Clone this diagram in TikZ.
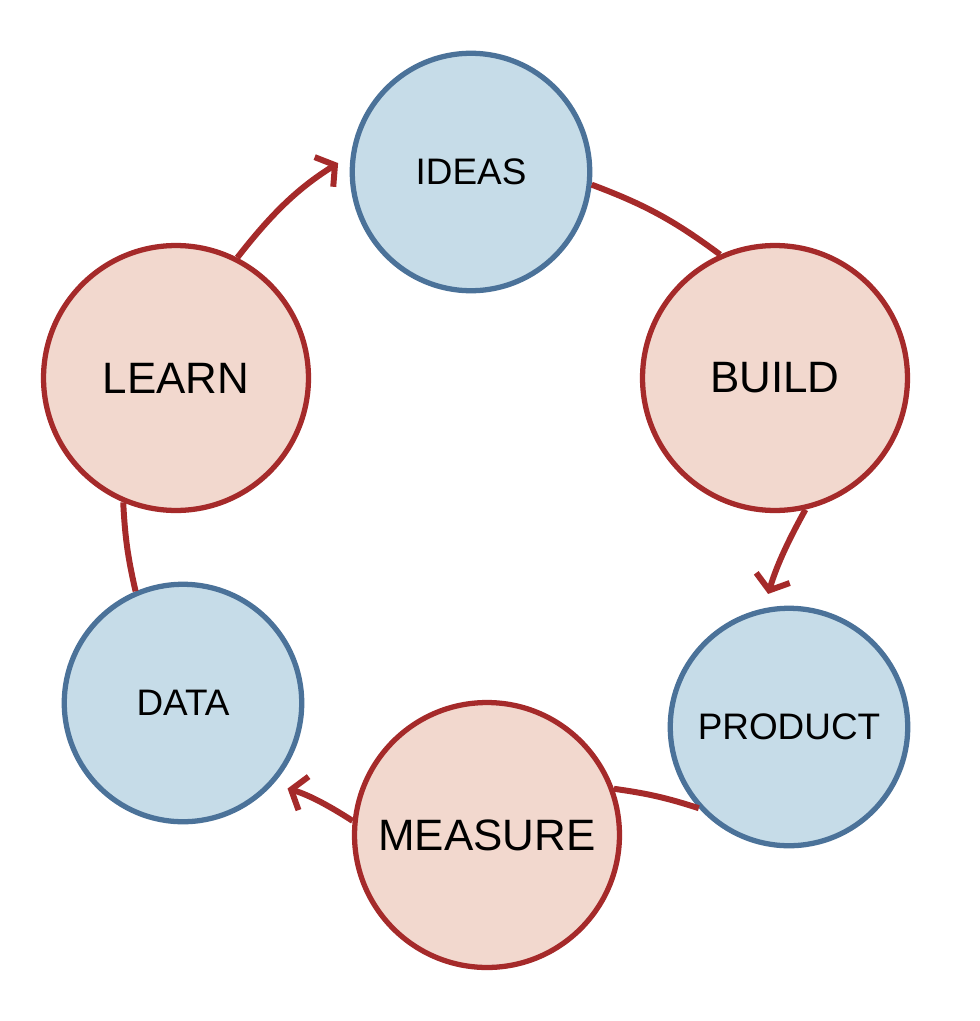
\documentclass[tikz,border=0pt]{standalone}
\usepackage{fontspec}
\setmainfont{Liberation Sans}
\usepackage{xcolor}
\definecolor{cycRed}{HTML}{A52A2A}
\definecolor{cycRedFill}{HTML}{F2D8CE}
\definecolor{cycBlue}{HTML}{4B7299}
\definecolor{cycBlueFill}{HTML}{C6DCE8}
\usetikzlibrary{arrows.meta}
\tikzset{
    stage/.style={
        draw=cycRed,
        fill=cycRedFill,
        circle,
        line width=3pt,
        minimum size=5.3cm,
        font=\fontsize{25}{28}\selectfont
    },
    result/.style={
        draw=cycBlue,
        fill=cycBlueFill,
        circle,
        line width=3pt,
        minimum size=4.75cm,
        font=\fontsize{21}{24}\selectfont
    },
    link/.style={
        line width=3.4pt,
        color=cycRed
    },
    flow/.style={
        link,
        -{Straight Barb[length=2.6mm,width=7mm,line join=miter]},
        shorten >=0.3cm
    }
}
\begin{document}
\begin{tikzpicture}[x=0.02cm,y=-0.02cm]
    \useasboundingbox (0,0) rectangle (980,1021);
    % Circles
    \node[result] (ideas) at (471,172) {IDEAS};
    \node[stage] (build) at (775,378) {BUILD};
    \node[result] (product) at (789,727) {PRODUCT};
    \node[stage] (measure) at (487,835) {MEASURE};
    \node[result] (data) at (183,703) {DATA};
    \node[stage] (learn) at (176,378) {LEARN};

    % Connections
    \draw[flow] (learn.63) to[bend left=10] (ideas.172);
    \draw[link] (ideas.-6) to[bend left=8] (build.114);
    \draw[flow] (build.-77) to[bend left=-6] (product.102);
    \draw[link] (product.-138) to[bend left=-5] (measure.20);
    \draw[flow] (measure.174) to[bend left=-8] (data.-42);
    \draw[link] (data.113) to[bend left=5] (learn.-113);
\end{tikzpicture}
\end{document}
